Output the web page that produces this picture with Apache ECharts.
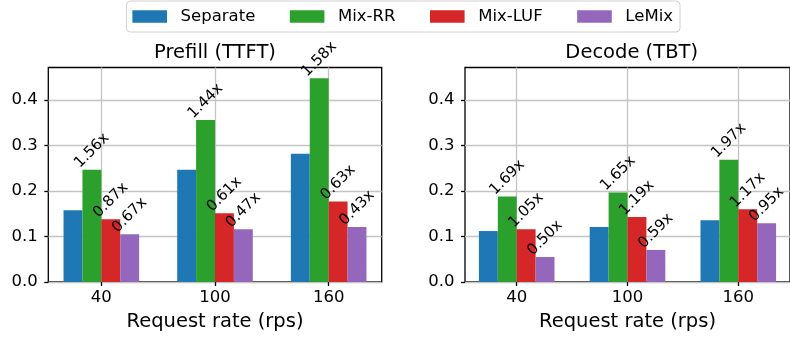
<!DOCTYPE html>
<html>
<head>
<meta charset="utf-8">
<script src="https://cdn.jsdelivr.net/npm/echarts@6/dist/echarts.min.js"></script>
<style>
  html, body { margin: 0; padding: 0; background: #fff; }
  #chart { width: 790px; height: 337px; }
</style>
</head>
<body>
<div id="chart"></div>
<script>
// request rates on the x axis
const categories = ['40', '100', '160']
const seriesNames = ['Separate', 'Mix-RR', 'Mix-LUF', 'LeMix']
const yTicks = [0, 0.1, 0.2, 0.3, 0.4]
const yTickLabels = ['0.0', '0.1', '0.2', '0.3', '0.4']

// Prefill (TTFT)
const prefillSeparate = [0.158, 0.247, 0.282]
const prefillMixRR = [0.247, 0.356, 0.448]
const prefillMixLUF = [0.138, 0.151, 0.177]
const prefillLeMix = [0.105, 0.116, 0.121]
const prefillMixRRLabels = ['1.56x', '1.44x', '1.58x']
const prefillMixLUFLabels = ['0.87x', '0.61x', '0.63x']
const prefillLeMixLabels = ['0.67x', '0.47x', '0.43x']

// Decode (TBT)
const decodeSeparate = [0.112, 0.121, 0.136]
const decodeMixRR = [0.188, 0.197, 0.269]
const decodeMixLUF = [0.116, 0.143, 0.160]
const decodeLeMix = [0.055, 0.0705, 0.129]
const decodeMixRRLabels = ['1.69x', '1.65x', '1.97x']
const decodeMixLUFLabels = ['1.05x', '1.19x', '1.17x']
const decodeLeMixLabels = ['0.50x', '0.59x', '0.95x']

const colors = ['#1f77b4', '#2ca02c', '#d62728', '#9467bd']
const font = 'DejaVu Sans'

function makeBar(name, values, labels, axisIndex) {
  return {
    name: name,
    type: 'bar',
    xAxisIndex: axisIndex,
    yAxisIndex: axisIndex,
    barWidth: 18.9,
    barGap: '0%',
    data: values.map((v, i) => [i, v]),
    label: {
      show: !!labels,
      position: 'top',
      distance: 19,
      rotate: 45,
      align: 'center',
      verticalAlign: 'middle',
      color: '#000',
      fontFamily: font,
      fontSize: 15,
      formatter: (p) => (labels ? labels[p.dataIndex] : '')
    }
  }
}

function xAxis(gridIndex) {
  return {
    type: 'value',
    gridIndex: gridIndex,
    min: -0.4667,
    max: 2.4667,
    name: 'Request rate (rps)',
    nameLocation: 'middle',
    nameGap: 30,
    nameTextStyle: { color: '#000', fontFamily: font, fontSize: 19.5 },
    axisLine: { show: false, onZero: false },
    axisTick: {
      show: true,
      length: 4,
      customValues: [0, 1, 2],
      lineStyle: { color: '#000', width: 1.3 }
    },
    axisLabel: {
      customValues: [0, 1, 2],
      margin: 7,
      color: '#000',
      fontFamily: font,
      fontSize: 16.5,
      formatter: (v) => categories[Math.round(v)]
    },
    splitLine: { show: true, lineStyle: { color: '#c4c4c4', width: 1.3 } }
  }
}

function yAxis(gridIndex) {
  return {
    type: 'value',
    gridIndex: gridIndex,
    min: 0,
    max: 0.4716,
    axisLine: { show: false, onZero: false },
    axisTick: {
      show: true,
      length: 4,
      customValues: yTicks,
      lineStyle: { color: '#000', width: 1.3 }
    },
    axisLabel: {
      customValues: yTicks,
      margin: 10.5,
      color: '#000',
      fontFamily: font,
      fontSize: 16.5,
      formatter: (v) => yTickLabels[Math.round(v * 10)]
    },
    splitLine: { show: true, lineStyle: { color: '#c4c4c4', width: 1.3 } }
  }
}

const chart = echarts.init(document.getElementById('chart'), null, { renderer: 'canvas' })
chart.setOption({
  animation: false,
  color: colors,
  title: [
    {
      text: 'Prefill (TTFT)',
      left: 215,
      top: 43,
      padding: 0,
      textAlign: 'center',
      textStyle: { color: '#000', fontFamily: font, fontSize: 19.5, fontWeight: 'normal' }
    },
    {
      text: 'Decode (TBT)',
      left: 631.7,
      top: 43,
      padding: 0,
      textAlign: 'center',
      textStyle: { color: '#000', fontFamily: font, fontSize: 19.5, fontWeight: 'normal' }
    }
  ],
  legend: {
    data: seriesNames,
    left: 126.4,
    top: 1,
    padding: [7, 7, 7, 6],
    itemWidth: 34.6,
    itemHeight: 12.5,
    itemGap: 34.5,
    icon: 'rect',
    borderColor: '#d0d0d0',
    borderWidth: 1,
    borderRadius: 4,
    backgroundColor: '#fff',
    textStyle: { color: '#000', fontFamily: font, fontSize: 16.5, padding: [0, 0, 0, 8.6] }
  },
  grid: [
    { left: 48.3, top: 67.5, width: 333.4, height: 216, show: true, borderColor: '#000', borderWidth: 1.3, backgroundColor: 'transparent' },
    { left: 465, top: 67.5, width: 333.4, height: 216, show: true, borderColor: '#000', borderWidth: 1.3, backgroundColor: 'transparent' }
  ],
  xAxis: [xAxis(0), xAxis(1)],
  yAxis: [yAxis(0), yAxis(1)],
  series: [
    makeBar('Separate', prefillSeparate, null, 0),
    makeBar('Mix-RR', prefillMixRR, prefillMixRRLabels, 0),
    makeBar('Mix-LUF', prefillMixLUF, prefillMixLUFLabels, 0),
    makeBar('LeMix', prefillLeMix, prefillLeMixLabels, 0),
    makeBar('Separate', decodeSeparate, null, 1),
    makeBar('Mix-RR', decodeMixRR, decodeMixRRLabels, 1),
    makeBar('Mix-LUF', decodeMixLUF, decodeMixLUFLabels, 1),
    makeBar('LeMix', decodeLeMix, decodeLeMixLabels, 1)
  ]
})
</script>
</body>
</html>
